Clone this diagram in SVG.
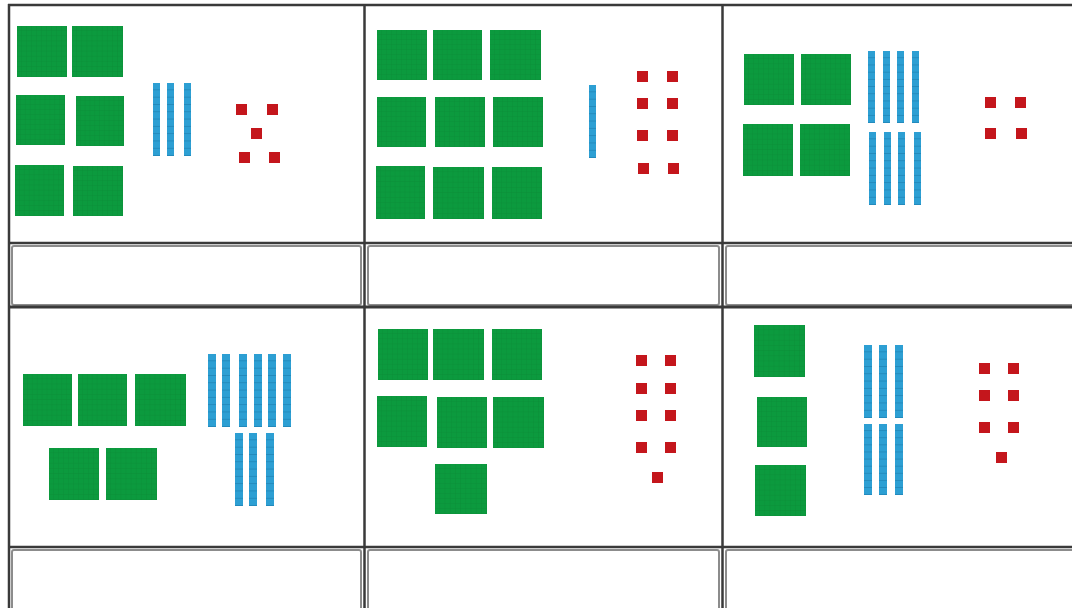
<svg xmlns="http://www.w3.org/2000/svg" width="1072" height="608" viewBox="0 0 1072 608">
<style>
.sq{fill:url(#gp)}
.rod{fill:url(#bp)}
.u{fill:#c4161c}
.ln{stroke:#3a3a3a;stroke-width:2.5;fill:none}
.ab{stroke:#8c8c8c;stroke-width:2;fill:none}
</style>
<defs>
<pattern id="gp" patternUnits="objectBoundingBox" patternContentUnits="objectBoundingBox" width="0.1" height="0.1">
<rect width="0.1" height="0.1" fill="#0c9a3e"/>
<rect x="0.094" width="0.006" height="0.1" fill="#0a8a36"/>
<rect y="0.094" width="0.1" height="0.006" fill="#0a8a36"/>
</pattern>
<pattern id="bp" patternUnits="objectBoundingBox" patternContentUnits="objectBoundingBox" width="1" height="0.1">
<rect width="1" height="0.1" fill="#2d9fd3"/>
<rect y="0.09" width="1" height="0.01" fill="#1f84b5"/>
</pattern>
</defs>
<rect width="1072" height="608" fill="#ffffff"/>

<g id="panel1">
<rect class="sq" x="17" y="26" width="50" height="51"/>
<rect class="sq" x="72" y="26" width="51" height="51"/>
<rect class="sq" x="16" y="95" width="49" height="50"/>
<rect class="sq" x="76" y="96" width="48" height="50"/>
<rect class="sq" x="15" y="165" width="49" height="51"/>
<rect class="sq" x="73" y="166" width="50" height="50"/>
<rect class="rod" x="153" y="83" width="7" height="73"/>
<rect class="rod" x="167" y="83" width="7" height="73"/>
<rect class="rod" x="184" y="83" width="7" height="73"/>
<rect class="u" x="236" y="104" width="11" height="11"/>
<rect class="u" x="267" y="104" width="11" height="11"/>
<rect class="u" x="251" y="128" width="11" height="11"/>
<rect class="u" x="239" y="152" width="11" height="11"/>
<rect class="u" x="269" y="152" width="11" height="11"/>
</g>

<g id="panel2">
<rect class="sq" x="377" y="30" width="50" height="50"/>
<rect class="sq" x="433" y="30" width="49" height="50"/>
<rect class="sq" x="490" y="30" width="51" height="50"/>
<rect class="sq" x="377" y="97" width="49" height="50"/>
<rect class="sq" x="435" y="97" width="50" height="50"/>
<rect class="sq" x="493" y="97" width="50" height="50"/>
<rect class="sq" x="376" y="166" width="49" height="53"/>
<rect class="sq" x="433" y="167" width="51" height="52"/>
<rect class="sq" x="492" y="167" width="50" height="52"/>
<rect class="rod" x="589" y="85" width="7" height="73"/>
<rect class="u" x="637" y="71" width="11" height="11"/>
<rect class="u" x="667" y="71" width="11" height="11"/>
<rect class="u" x="637" y="98" width="11" height="11"/>
<rect class="u" x="667" y="98" width="11" height="11"/>
<rect class="u" x="637" y="130" width="11" height="11"/>
<rect class="u" x="667" y="130" width="11" height="11"/>
<rect class="u" x="638" y="163" width="11" height="11"/>
<rect class="u" x="668" y="163" width="11" height="11"/>
</g>

<g id="panel3">
<rect class="sq" x="744" y="54" width="50" height="51"/>
<rect class="sq" x="801" y="54" width="50" height="51"/>
<rect class="sq" x="743" y="124" width="50" height="52"/>
<rect class="sq" x="800" y="124" width="50" height="52"/>
<rect class="rod" x="868" y="51" width="7" height="72"/>
<rect class="rod" x="883" y="51" width="7" height="72"/>
<rect class="rod" x="897" y="51" width="7" height="72"/>
<rect class="rod" x="912" y="51" width="7" height="72"/>
<rect class="rod" x="869" y="132" width="7" height="73"/>
<rect class="rod" x="884" y="132" width="7" height="73"/>
<rect class="rod" x="898" y="132" width="7" height="73"/>
<rect class="rod" x="914" y="132" width="7" height="73"/>
<rect class="u" x="985" y="97" width="11" height="11"/>
<rect class="u" x="1015" y="97" width="11" height="11"/>
<rect class="u" x="985" y="128" width="11" height="11"/>
<rect class="u" x="1016" y="128" width="11" height="11"/>
</g>

<g id="panel4">
<rect class="sq" x="23" y="374" width="49" height="52"/>
<rect class="sq" x="78" y="374" width="49" height="52"/>
<rect class="sq" x="135" y="374" width="51" height="52"/>
<rect class="sq" x="49" y="448" width="50" height="52"/>
<rect class="sq" x="106" y="448" width="51" height="52"/>
<rect class="rod" x="208" y="354" width="8" height="73"/>
<rect class="rod" x="222" y="354" width="8" height="73"/>
<rect class="rod" x="239" y="354" width="8" height="73"/>
<rect class="rod" x="254" y="354" width="8" height="73"/>
<rect class="rod" x="268" y="354" width="8" height="73"/>
<rect class="rod" x="283" y="354" width="8" height="73"/>
<rect class="rod" x="235" y="433" width="8" height="73"/>
<rect class="rod" x="249" y="433" width="8" height="73"/>
<rect class="rod" x="266" y="433" width="8" height="73"/>
</g>

<g id="panel5">
<rect class="sq" x="378" y="329" width="50" height="51"/>
<rect class="sq" x="433" y="329" width="51" height="51"/>
<rect class="sq" x="492" y="329" width="50" height="51"/>
<rect class="sq" x="377" y="396" width="50" height="51"/>
<rect class="sq" x="437" y="397" width="50" height="51"/>
<rect class="sq" x="493" y="397" width="51" height="51"/>
<rect class="sq" x="435" y="464" width="52" height="50"/>
<rect class="u" x="636" y="355" width="11" height="11"/>
<rect class="u" x="665" y="355" width="11" height="11"/>
<rect class="u" x="636" y="383" width="11" height="11"/>
<rect class="u" x="665" y="383" width="11" height="11"/>
<rect class="u" x="636" y="410" width="11" height="11"/>
<rect class="u" x="665" y="410" width="11" height="11"/>
<rect class="u" x="636" y="442" width="11" height="11"/>
<rect class="u" x="665" y="442" width="11" height="11"/>
<rect class="u" x="652" y="472" width="11" height="11"/>
</g>

<g id="panel6">
<rect class="sq" x="754" y="325" width="51" height="52"/>
<rect class="sq" x="757" y="397" width="50" height="50"/>
<rect class="sq" x="755" y="465" width="51" height="51"/>
<rect class="rod" x="864" y="345" width="8" height="73"/>
<rect class="rod" x="879" y="345" width="8" height="73"/>
<rect class="rod" x="895" y="345" width="8" height="73"/>
<rect class="rod" x="864" y="424" width="8" height="71"/>
<rect class="rod" x="879" y="424" width="8" height="71"/>
<rect class="rod" x="895" y="424" width="8" height="71"/>
<rect class="u" x="979" y="363" width="11" height="11"/>
<rect class="u" x="1008" y="363" width="11" height="11"/>
<rect class="u" x="979" y="390" width="11" height="11"/>
<rect class="u" x="1008" y="390" width="11" height="11"/>
<rect class="u" x="979" y="422" width="11" height="11"/>
<rect class="u" x="1008" y="422" width="11" height="11"/>
<rect class="u" x="996" y="452" width="11" height="11"/>
</g>

<g id="answer-boxes">
<rect class="ab" x="12" y="246" width="349" height="59" rx="2"/>
<rect class="ab" x="368" y="246" width="351" height="59" rx="2"/>
<rect class="ab" x="726" y="246" width="350" height="59" rx="2"/>
<rect class="ab" x="12" y="550" width="349" height="62" rx="2"/>
<rect class="ab" x="368" y="550" width="351" height="62" rx="2"/>
<rect class="ab" x="726" y="550" width="350" height="62" rx="2"/>
</g>

<g id="frame">
<line class="ln" x1="8" y1="5" x2="1072" y2="5"/>
<line class="ln" x1="8" y1="243" x2="1072" y2="243"/>
<line class="ln" x1="8" y1="307" x2="1072" y2="307" style="stroke-width:3"/>
<line class="ln" x1="8" y1="547" x2="1072" y2="547"/>
<line class="ln" x1="9" y1="4" x2="9" y2="608"/>
<line class="ln" x1="364.5" y1="4" x2="364.5" y2="608"/>
<line class="ln" x1="722.5" y1="4" x2="722.5" y2="608"/>
</g>
</svg>
